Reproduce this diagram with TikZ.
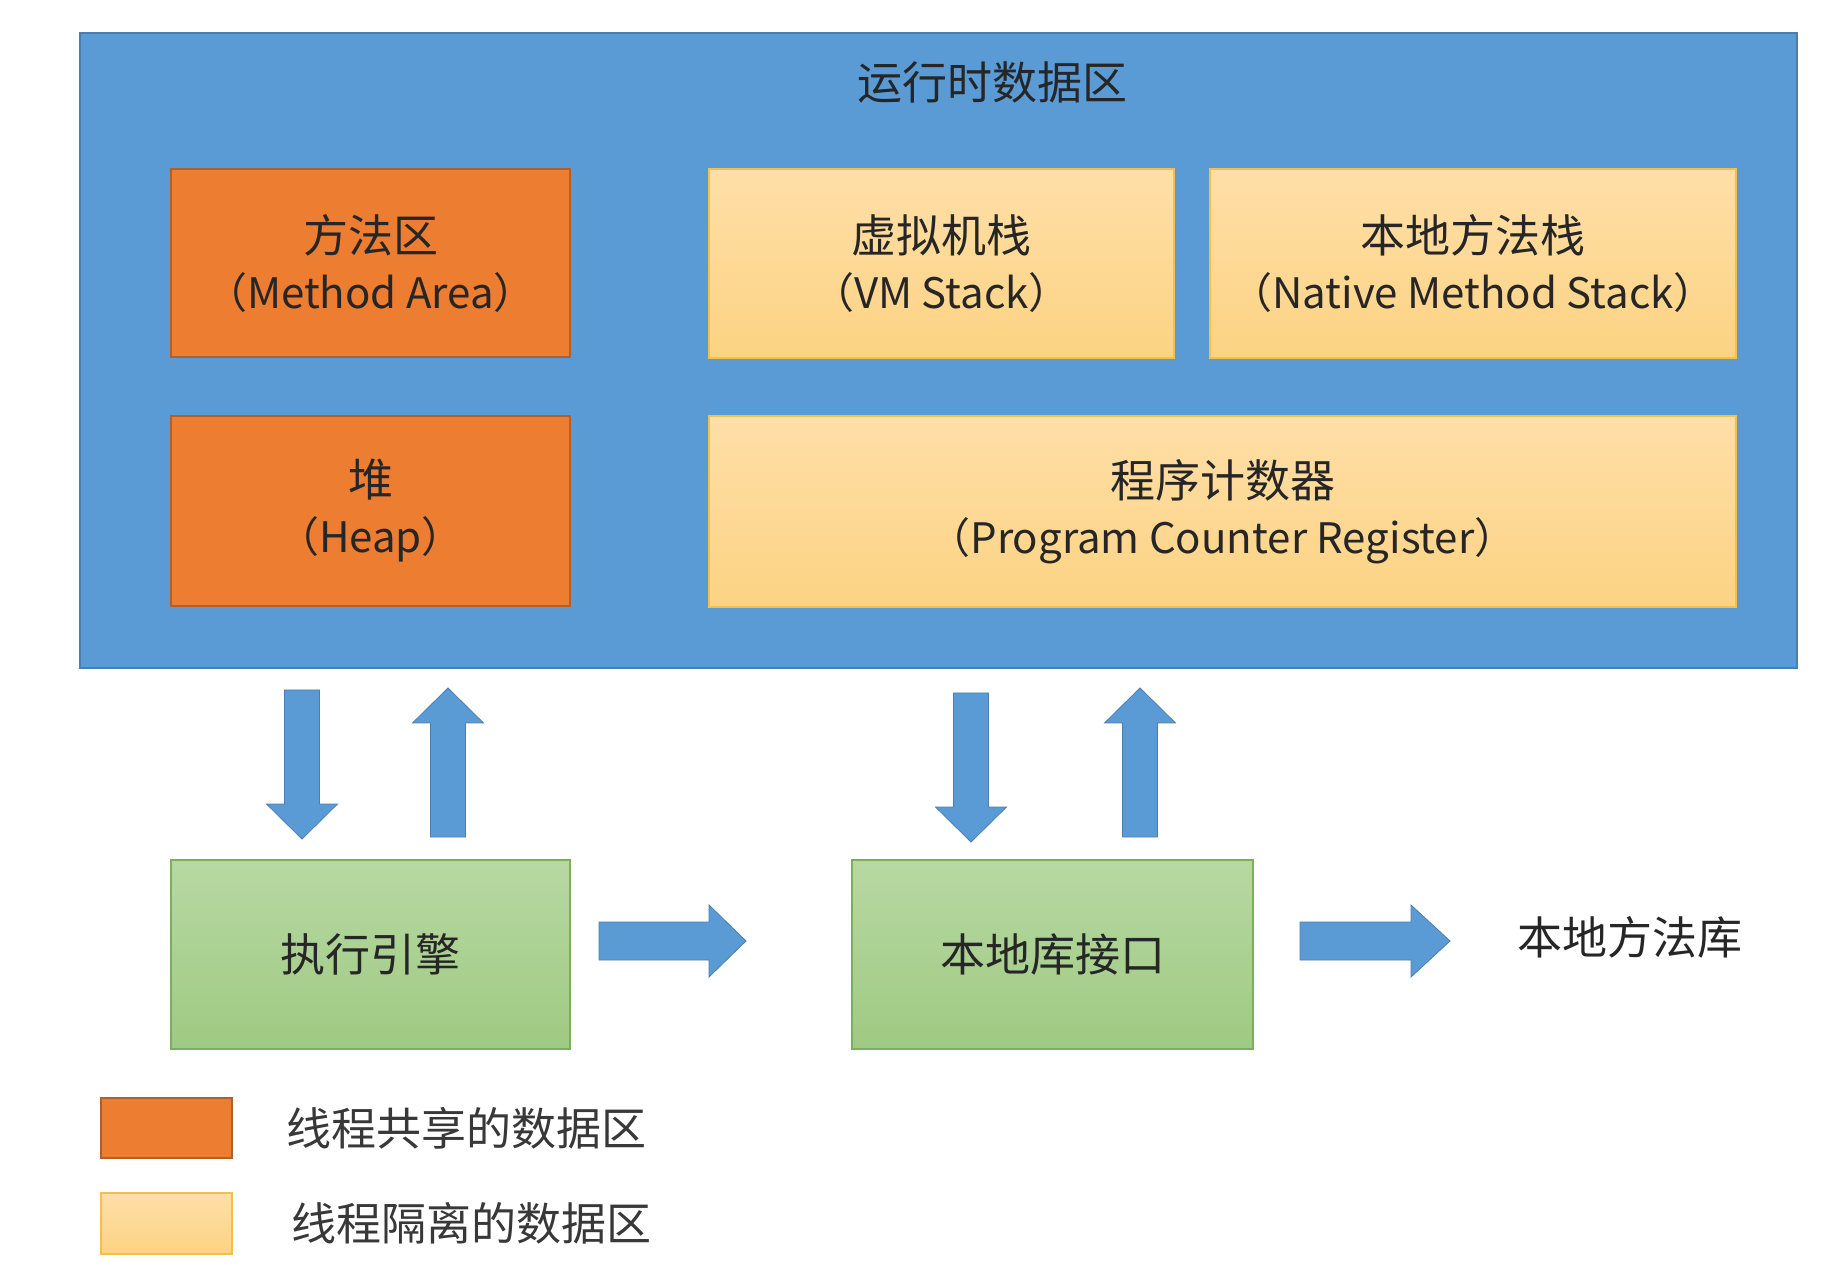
\documentclass[tikz,border=0pt]{standalone}
\usepackage{fontspec}
\newfontfamily\cjk{Noto Sans CJK SC}
\newcommand{\subline}{\fontsize{21}{28}\selectfont}
\definecolor{bluefill}{HTML}{5B9BD5}
\definecolor{blueline}{HTML}{4A7EB0}
\definecolor{orangefill}{HTML}{ED7D31}
\definecolor{orangeline}{HTML}{B0602C}
\definecolor{yellowtop}{HTML}{FFDFA8}
\definecolor{yellowbot}{HTML}{FCD383}
\definecolor{yellowline}{HTML}{F4C04C}
\definecolor{greentop}{HTML}{B7D8A3}
\definecolor{greenbot}{HTML}{9FCA82}
\definecolor{greenline}{HTML}{7BAE5D}
\definecolor{txt}{HTML}{262626}
\definecolor{legtxt}{HTML}{383838}
\begin{document}
\begin{tikzpicture}[x=0.5pt,y=-0.5pt,
  every node/.style={font=\cjk\fontsize{22.5}{28}\selectfont, text=txt, inner sep=0pt, align=center},
  outerbox/.style={draw=blueline, line width=1pt, fill=bluefill},
  sharedbox/.style={draw=orangeline, line width=1pt, fill=orangefill},
  privbox/.style={draw=yellowline, line width=1.2pt, top color=yellowtop, bottom color=yellowbot},
  enginebox/.style={draw=greenline, line width=1pt, top color=greentop, bottom color=greenbot},
  blockarrow/.style={fill=bluefill, draw=blueline, line width=0.4pt},
  legendtext/.style={text=legtxt, anchor=west}]
\useasboundingbox (0,0) rectangle (1848,1272);
\fill[white] (0,0) rectangle (1848,1272);

% runtime data area
\node[outerbox, minimum width=858.5pt, minimum height=317.5pt] (rt) at (938.5,350.5) {};
\node (rttitle) at (992,82) {运行时数据区};

\node[sharedbox, minimum width=199.5pt, minimum height=94pt] (method) at (370.5,263) {方法区\\{\subline（Method Area）}};
\node[sharedbox, minimum width=199.5pt, minimum height=95pt] (heap) at (370.5,511) {堆\\{\subline（Heap）}};
\node[privbox, minimum width=232.5pt, minimum height=94.5pt] (vm) at (941.5,263.5) {虚拟机栈\\{\subline（VM Stack）}};
\node[privbox, minimum width=263pt, minimum height=94.5pt] (native) at (1473,263.5) {本地方法栈\\{\subline（Native Method Stack）}};
\node[privbox, minimum width=513.5pt, minimum height=95.5pt] (pc) at (1222.5,511.5) {程序计数器\\{\subline（Program Counter Register）}};

% engines
\node[enginebox, minimum width=199.5pt, minimum height=94.5pt] (exec) at (370.5,954.5) {执行引擎};
\node[enginebox, minimum width=200.5pt, minimum height=94.5pt] (jni) at (1052.5,954.5) {本地库接口};
\node[anchor=west] (lib) at (1517,937) {本地方法库};

% block arrows
\path[blockarrow] (284.5,690) -- (319.5,690) -- (319.5,804) -- (337.5,804) -- (302,839) -- (266.5,804) -- (284.5,804) -- cycle;
\path[blockarrow] (430.5,837) -- (465.5,837) -- (465.5,723) -- (483.5,723) -- (448,688) -- (412.5,723) -- (430.5,723) -- cycle;
\path[blockarrow] (953.5,693) -- (988.5,693) -- (988.5,807) -- (1006.5,807) -- (971,842) -- (935.5,807) -- (953.5,807) -- cycle;
\path[blockarrow] (1122.5,837) -- (1157.5,837) -- (1157.5,723) -- (1175.5,723) -- (1140,688) -- (1104.5,723) -- (1122.5,723) -- cycle;
\path[blockarrow] (599,922) -- (709,922) -- (709,905) -- (746,941) -- (709,977) -- (709,960) -- (599,960) -- cycle;
\path[blockarrow] (1300,922) -- (1411,922) -- (1411,905) -- (1450,941) -- (1411,977) -- (1411,960) -- (1300,960) -- cycle;

% legend
\node[sharedbox, minimum width=65.5pt, minimum height=30pt] (legshared) at (166.5,1128) {};
\node[legendtext] (legsharedtxt) at (286,1128) {线程共享的数据区};
\node[privbox, minimum width=65.5pt, minimum height=30.5pt] (legpriv) at (166.5,1223.5) {};
\node[legendtext] (legprivtxt) at (291,1223) {线程隔离的数据区};
\end{tikzpicture}
\end{document}
